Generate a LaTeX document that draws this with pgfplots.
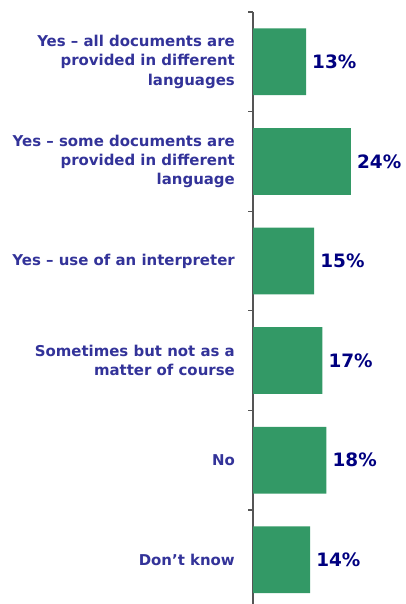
\documentclass[border=0pt]{standalone}
\usepackage{fontspec}
\setmainfont{DejaVu Sans}
\usepackage{pgfplots}
\pgfplotsset{compat=1.18}
\definecolor{barcol}{HTML}{339966}
\definecolor{labcol}{HTML}{333399}
\definecolor{valcol}{HTML}{000080}
\definecolor{axcol}{HTML}{555555}
\begin{document}
\begin{tikzpicture}
\begin{axis}[
  at={(253bp,-12bp)}, anchor=north west,
  scale only axis, width=153bp, height=592.6bp,
  xbar, bar width=0.67, y dir=reverse,
  xmin=0, xmax=37.5, ymin=-0.5, ymax=5.45,
  axis x line=none, axis y line*=left,
  axis line style={axcol, line width=1.5bp},
  /pgf/number format/assume math mode=true,
  ytick={0,1,2,3,4,5},
  yticklabels={{Yes – all documents are\\provided in different\\languages},
               {Yes – some documents are\\provided in different\\language},
               {Yes – use of an interpreter},
               {Sometimes but not as a\\matter of course},
               {No},
               {Don’t know}},
  major tick length=0pt,
  yticklabel style={font=\fontsize{15}{19.3}\selectfont\bfseries, text=labcol, align=right, anchor=east, inner sep=0pt, xshift=-18bp},
  extra y ticks={-0.5,0.5,1.5,2.5,3.5,4.5},
  extra y tick labels={},
  extra y tick style={major tick length=5bp, tick align=outside, tick style={axcol, line width=1.2bp}},
  point meta=x,
  nodes near coords={\pgfmathprintnumber{\pgfplotspointmeta}\%},
  nodes near coords style={font=\fontsize{18.5}{20}\selectfont\bfseries, text=valcol, anchor=west, inner sep=0pt, xshift=6bp},
]
\addplot[fill=barcol, draw=none] coordinates {(13,0) (24,1) (15,2) (17,3) (18,4) (14,5)};
\end{axis}
\pgfresetboundingbox
\path (0,0) rectangle (406bp,-604bp);
\end{tikzpicture}
\end{document}
